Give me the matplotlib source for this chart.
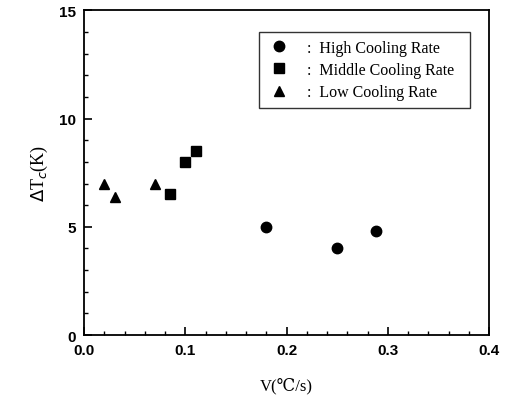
import numpy as np
from matplotlib import pyplot as plt
from matplotlib.ticker import MultipleLocator

# data
high_v = [0.18, 0.25, 0.288]
high_dt = [5.0, 4.0, 4.8]
mid_v = [0.085, 0.10, 0.11]
mid_dt = [6.5, 8.0, 8.5]
low_v = [0.02, 0.03, 0.07]
low_dt = [7.0, 6.4, 7.0]

serif = ['Liberation Serif', 'DejaVu Serif']

fig = plt.figure(figsize=(5.1, 4.06), dpi=100)
ax = fig.add_axes([0.165, 0.1724, 0.794, 0.7993])

# trailing spaces give the wider right margin of the legend box
ax.plot(high_v, high_dt, 'o', color='black', ms=7.5, label=':  High Cooling Rate  ')
ax.plot(mid_v, mid_dt, 's', color='black', ms=7, label=':  Middle Cooling Rate  ')
ax.plot(low_v, low_dt, '^', color='black', ms=7.5, label=':  Low Cooling Rate  ')

ax.set_xlim(0, 0.4)
ax.set_ylim(0, 15)
ax.xaxis.set_minor_locator(MultipleLocator(0.02))
ax.yaxis.set_major_locator(MultipleLocator(5))
ax.yaxis.set_minor_locator(MultipleLocator(1))
ax.set_xticks([0, 0.1, 0.2, 0.3, 0.4])
ax.set_xticklabels(['0.0', '0.1', '0.2', '0.3', '0.4'])
ax.tick_params(which='both', direction='in', top=False, right=False)
ax.tick_params(which='major', length=6, width=1.2, labelsize=11, pad=6)
ax.tick_params(which='minor', length=3, width=1)
for lab in ax.get_xticklabels() + ax.get_yticklabels():
    lab.set_fontfamily(['Liberation Sans', 'DejaVu Sans'])
    lab.set_fontweight('bold')
for s in ax.spines.values():
    s.set_linewidth(1.3)

ax.set_xlabel('V(\u2103/s)', family=serif, fontsize=12, labelpad=14)
ax.set_ylabel(r'$\mathit{\Delta}$T$_c$(K)', family=serif, fontsize=13, labelpad=6)

leg = ax.legend(loc='upper right', bbox_to_anchor=(0.953, 0.935), prop={'family': serif, 'size': 11.5},
                frameon=True, fancybox=False, edgecolor='black', handletextpad=1.0,
                borderpad=0.5, borderaxespad=0, labelspacing=0.4, handlelength=1.5)
leg.get_frame().set_linewidth(1.0)

plt.savefig('out.png', dpi=100)
